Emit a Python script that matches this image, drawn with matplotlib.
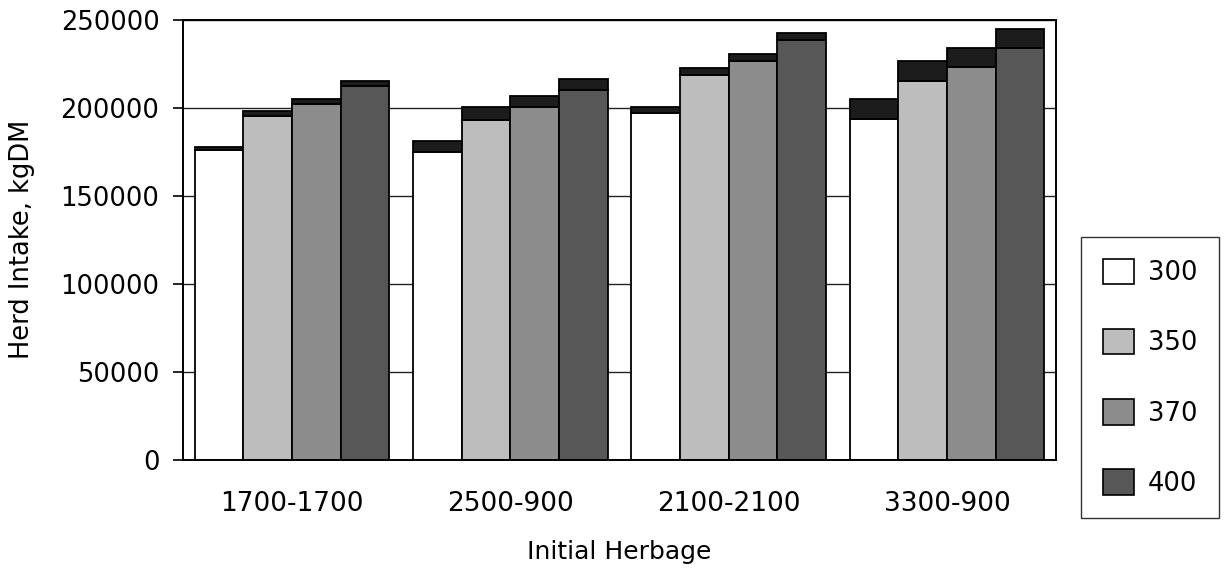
import matplotlib
matplotlib.use("Agg")
import matplotlib.pyplot as plt
import numpy as np
from matplotlib.patches import Patch

# Herbage scenarios on the category axis
groups = ["1700-1700", "2500-900", "2100-2100", "3300-900"]
# Stocking series shown in the legend
series = ["300", "350", "370", "400"]

# Lower bound of herd intake (kgDM) per scenario, one list per series
low_300 = [175900, 174600, 197100, 193500]
low_350 = [195100, 193000, 218500, 215100]
low_370 = [202100, 200200, 226600, 223200]
low_400 = [212500, 210000, 238400, 233600]

# Upper bound of herd intake (kgDM) per scenario, one list per series
high_300 = [177900, 181000, 200500, 204900]
high_350 = [197900, 200500, 222300, 226300]
high_370 = [204700, 206800, 230600, 234000]
high_400 = [215000, 216200, 242500, 244800]

y_ticks = [0, 50000, 100000, 150000, 200000, 250000]

lows = [low_300, low_350, low_370, low_400]
highs = [high_300, high_350, high_370, high_400]
fills = ["#ffffff", "#bdbdbd", "#8c8c8c", "#575757"]
cap_color = "#1c1c1c"

plt.rcParams["font.family"] = ["DejaVu Sans"]

W, H = 1229, 576
fig = plt.figure(figsize=(W / 100, H / 100), dpi=100)
ax_l, ax_r, ax_t, ax_b = 183, 1056, 19.5, 460
ax = fig.add_axes([ax_l / W, 1 - ax_b / H, (ax_r - ax_l) / W, (ax_b - ax_t) / H])

x = np.arange(len(groups))
bw = 0.223
for k, (lo, hi, fc) in enumerate(zip(lows, highs, fills)):
    lo = np.asarray(lo)
    hi = np.asarray(hi)
    pos = x + (k - 1.5) * bw
    ax.bar(pos, lo, bw, color=fc, edgecolor="black", linewidth=1.3, zorder=2)
    ax.bar(pos, hi - lo, bw, bottom=lo, color=cap_color, edgecolor="black",
           linewidth=1.3, zorder=2)

ax.set_xlim(-0.5, len(groups) - 0.5)
ax.set_ylim(0, 250000)
ax.set_yticks(y_ticks)
ax.set_yticklabels([str(v) for v in y_ticks])
ax.set_xticks(x)
ax.set_xticklabels(groups)

ax.yaxis.grid(True, color="#222222", linewidth=1.0)
ax.set_axisbelow(True)
for s in ax.spines.values():
    s.set_color("black")
    s.set_linewidth(1.4)

fs = 18.5
ax.tick_params(axis="y", length=7, width=1.2, pad=10, labelsize=fs, colors="black")
ax.tick_params(axis="x", length=0, pad=22, labelsize=19, colors="black")

ax.set_ylabel("Herd Intake, kgDM", fontsize=fs, va="center")
ax.yaxis.set_label_coords((22 - ax_l) / (ax_r - ax_l), 0.5)
ax.set_xlabel("Initial Herbage", fontsize=18, va="center")
ax.xaxis.set_label_coords(0.5, -(552 - ax_b) / (ax_b - ax_t))

handles = [Patch(facecolor=fc, edgecolor="black", linewidth=1.2) for fc in fills]
leg = fig.legend(handles, series, loc="upper left",
                 bbox_to_anchor=(1081 / W, 1 - 237 / H),
                 bbox_transform=fig.transFigure,
                 frameon=True, fancybox=False, edgecolor="black",
                 fontsize=fs, handlelength=1.2, handleheight=1.15,
                 handletextpad=0.55, labelspacing=1.66, borderpad=0.85,
                 borderaxespad=0)
leg.get_frame().set_linewidth(1.0)

fig.savefig("out.png", dpi=100)
